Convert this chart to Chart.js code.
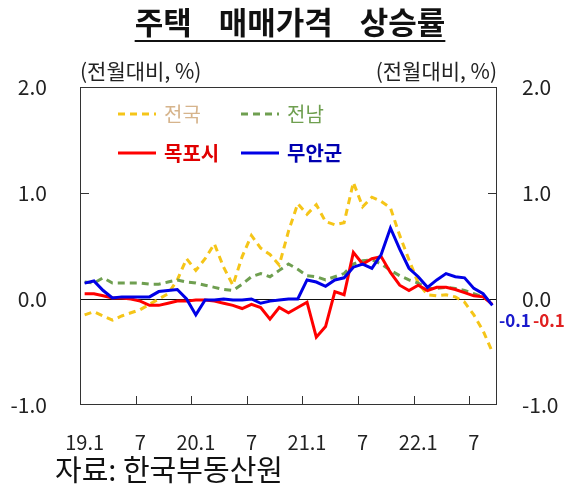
<!DOCTYPE html>
<html>
<head>
<meta charset="utf-8">
<script src="https://cdn.jsdelivr.net/npm/chart.js@4.4.0/dist/chart.umd.min.js"></script>
<style>
html, body { margin: 0; padding: 0; background: #fff; }
#wrap { width: 566px; height: 490px; position: relative; }
</style>
</head>
<body>
<div id="wrap"><canvas id="chartjs_line"></canvas></div>
<script>
'use strict';

// 19.1 ~ 22.9, monthly
var MONTHS = ['19.1', '19.2', '19.3', '19.4', '19.5', '19.6', '19.7', '19.8', '19.9', '19.10', '19.11', '19.12',
              '20.1', '20.2', '20.3', '20.4', '20.5', '20.6', '20.7', '20.8', '20.9', '20.10', '20.11', '20.12',
              '21.1', '21.2', '21.3', '21.4', '21.5', '21.6', '21.7', '21.8', '21.9', '21.10', '21.11', '21.12',
              '22.1', '22.2', '22.3', '22.4', '22.5', '22.6', '22.7', '22.8', '22.9'];
var X_TICKS = { '19.1': '19.1', '19.7': '7', '20.1': '20.1', '20.7': '7', '21.1': '21.1', '21.7': '7', '22.1': '22.1', '22.7': '7' };
var Y_TICKS = [-1.0, 0.0, 1.0, 2.0];

var nation = [-0.15, -0.12, -0.16, -0.20, -0.16, -0.13, -0.10, -0.05, 0.00, 0.05, 0.18, 0.38,
              0.27, 0.38, 0.52, 0.30, 0.13, 0.40, 0.60, 0.48, 0.42, 0.32, 0.64, 0.90,
              0.80, 0.89, 0.73, 0.70, 0.72, 1.10, 0.87, 0.96, 0.92, 0.86, 0.60, 0.37,
              0.15, 0.04, 0.03, 0.04, 0.02, -0.03, -0.15, -0.30, -0.50];
var jeonnam = [0.16, 0.15, 0.20, 0.15, 0.15, 0.15, 0.15, 0.14, 0.14, 0.16, 0.18, 0.16,
               0.15, 0.13, 0.11, 0.09, 0.08, 0.14, 0.21, 0.24, 0.21, 0.27, 0.33, 0.28,
               0.22, 0.21, 0.18, 0.21, 0.24, 0.33, 0.36, 0.37, 0.33, 0.27, 0.22, 0.18,
               0.15, 0.10, 0.10, 0.11, 0.10, 0.08, 0.05, 0.02, -0.04];
var mokpo = [0.05, 0.05, 0.03, 0.01, 0.01, 0.00, -0.02, -0.06, -0.06, -0.04, -0.02, -0.02,
             -0.01, -0.01, -0.02, -0.04, -0.06, -0.09, -0.05, -0.08, -0.19, -0.08, -0.13, -0.08,
             -0.03, -0.36, -0.26, 0.07, 0.04, 0.44, 0.33, 0.38, 0.40, 0.25, 0.13, 0.08,
             0.13, 0.08, 0.11, 0.11, 0.09, 0.06, 0.03, 0.02, -0.05];
var muan = [0.15, 0.17, 0.08, 0.01, 0.02, 0.02, 0.02, 0.02, 0.07, 0.08, 0.09, 0.00,
            -0.15, -0.01, -0.01, 0.00, -0.01, -0.01, 0.00, -0.04, -0.02, -0.01, 0.00, 0.00,
            0.18, 0.16, 0.12, 0.18, 0.20, 0.30, 0.33, 0.29, 0.42, 0.67, 0.47, 0.29,
            0.21, 0.11, 0.18, 0.24, 0.21, 0.20, 0.10, 0.05, -0.06];

var KR = '"Noto Sans CJK KR", "Noto Sans", sans-serif';
var LEGEND = [
    { label: '전국', color: '#f5c518', text: '#d6b48c', dash: [7, 5], bold: false },
    { label: '전남', color: '#6f9f50', text: '#6f9f50', dash: [7, 5], bold: false },
    { label: '목포시', color: '#ff0000', text: '#e00000', dash: [], bold: true },
    { label: '무안군', color: '#0000e6', text: '#0000b0', dash: [], bold: true }
];

// title, units, frame, inner ticks, legend, end labels
var decor = {
    id: 'decor',
    afterDraw: function(chart) {
        var c = chart.ctx, a = chart.chartArea;
        var xs = chart.scales.x, ys = chart.scales.y;
        c.save();

        // title
        c.fillStyle = '#111';
        c.font = 'bold 31px ' + KR;
        c.textBaseline = 'middle';
        c.textAlign = 'left';
        var words = ['주택', '매매가격', '상승률'];
        var gap = 27, tw = 0;
        words.forEach(function(w) { tw += c.measureText(w).width; });
        tw += gap * 2;
        var tx = 290 - tw / 2, tx0 = tx;
        words.forEach(function(w) {
            c.fillText(w, tx, 22);
            tx += c.measureText(w).width + gap;
        });
        c.fillRect(tx0, 40, tw, 2);

        // units
        c.font = '21px ' + KR;
        c.fillStyle = '#222';
        c.textAlign = 'left';
        c.fillText('(전월대비, %)', a.left, 71);
        c.textAlign = 'right';
        c.fillText('(전월대비, %)', a.right, 71);

        // source
        c.textAlign = 'left';
        c.font = '29px ' + KR;
        c.fillStyle = '#111';
        c.fillText('자료: 한국부동산원', 55, 470);

        // frame
        c.strokeStyle = '#333';
        c.lineWidth = 1;
        c.strokeRect(a.left + 0.5, a.top + 0.5, a.right - a.left - 1, a.bottom - a.top - 1);

        // inner ticks
        c.beginPath();
        var y1 = Math.round(ys.getPixelForValue(1)) + 0.5;
        c.moveTo(a.left, y1); c.lineTo(a.left + 9, y1);
        c.moveTo(a.right, y1); c.lineTo(a.right - 9, y1);
        for (var i = 6; i < MONTHS.length; i += 6) {
            var px = Math.round((xs.getPixelForValue(i - 1) + xs.getPixelForValue(i)) / 2) + 0.5;
            c.moveTo(px, a.bottom); c.lineTo(px, a.bottom - 9);
        }
        c.stroke();

        // legend
        LEGEND.forEach(function(it, k) {
            var col = k % 2, row = Math.floor(k / 2);
            var lx = a.left + 38 + col * 123;
            var ly = a.top + 27 + row * 39;
            c.beginPath();
            c.setLineDash(it.dash);
            c.lineWidth = 3;
            c.strokeStyle = it.color;
            c.moveTo(lx, ly); c.lineTo(lx + 38, ly);
            c.stroke();
            c.setLineDash([]);
            c.font = (it.bold ? 'bold ' : '') + '20px ' + KR;
            c.fillStyle = it.text;
            c.textAlign = 'left';
            c.fillText(it.label, lx + 46, ly);
        });

        // end labels
        var zy = ys.getPixelForValue(0) + 22;
        c.font = 'bold 17px ' + KR;
        c.textAlign = 'left';
        c.fillStyle = '#1a1acc';
        c.fillText('-0.1', a.right + 2, zy);
        c.fillStyle = '#e02020';
        c.fillText('-0.1', a.right + 36, zy);

        c.restore();
    }
};

function line(label, data, color, dash) {
    return {
        label: label,
        data: data,
        borderColor: color,
        backgroundColor: color,
        borderWidth: 3,
        borderDash: dash,
        pointRadius: 0,
        tension: 0,
        fill: false
    };
}

var yTicks = {
    color: '#222',
    font: { family: KR, size: 21 },
    callback: function(v) { return Y_TICKS.indexOf(v) >= 0 ? v.toFixed(1) : ''; }
};

var chartjs_line = document.getElementById('chartjs_line');
if (chartjs_line !== null) {
    var ctx = chartjs_line.getContext('2d');
    window.myLine = new Chart(ctx, {
        type: 'line',
        data: {
            labels: MONTHS,
            datasets: [
                line('무안군', muan, '#0000e6', []),
                line('목포시', mokpo, '#ff0000', []),
                line('전남', jeonnam, '#6f9f50', [7, 5]),
                line('전국', nation, '#f5c518', [7, 5])
            ]
        },
        options: {
            responsive: true,
            maintainAspectRatio: false,
            animation: false,
            layout: { padding: { top: 87, left: 0, right: 0, bottom: 0 } },
            plugins: {
                legend: { display: false },
                title: { display: false },
                tooltip: { enabled: false }
            },
            scales: {
                x: {
                    offset: true,
                    border: { display: false },
                    grid: { display: false },
                    ticks: {
                        autoSkip: false,
                        maxRotation: 0,
                        padding: 17,
                        color: '#222',
                        font: { family: KR, size: 20 },
                        callback: function(v, i) { return X_TICKS[MONTHS[i]] || ''; }
                    },
                    afterFit: function(s) { s.height = 85; }
                },
                y: {
                    position: 'left',
                    min: -1, max: 2,
                    border: { display: false },
                    grid: {
                        drawTicks: false,
                        color: function(c) { return c.tick && c.tick.value === 0 ? '#111' : 'rgba(0,0,0,0)'; }
                    },
                    ticks: Object.assign({ stepSize: 1, padding: 33 }, yTicks),
                    afterFit: function(s) { s.width = 80; }
                },
                y2: {
                    position: 'right',
                    min: -1, max: 2,
                    border: { display: false },
                    grid: { display: false, drawTicks: false },
                    ticks: Object.assign({ stepSize: 1, padding: 25 }, yTicks),
                    afterFit: function(s) { s.width = 69; }
                }
            }
        },
        plugins: [decor]
    });
}
</script>
</body>
</html>
